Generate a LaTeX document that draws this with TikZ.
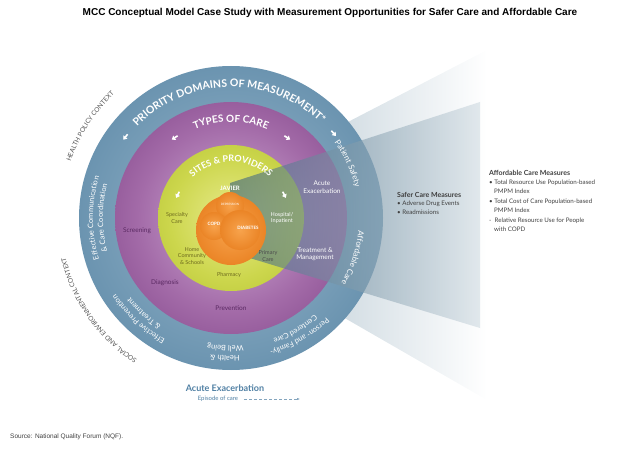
\documentclass[tikz,border=0pt]{standalone}
\usepackage{fontspec}
\setmainfont{Lato}
\newfontfamily\arialf{Liberation Sans}
\usetikzlibrary{decorations.text,arrows.meta}
\definecolor{ringblue}{HTML}{3E6B87}
\definecolor{ptxt}{HTML}{5B2A63}
\definecolor{gtxt}{HTML}{6E6B1E}
\definecolor{steel}{HTML}{4F7FA3}
\definecolor{ctx}{HTML}{555555}
\pgfdeclareradialshading{blueR}{\pgfpoint{0bp}{0bp}}{rgb(0bp)=(0.60,0.72,0.80); rgb(25bp)=(0.42,0.58,0.69); rgb(50bp)=(0.22,0.38,0.50)}
\pgfdeclareradialshading{purpR}{\pgfpoint{0bp}{0bp}}{rgb(0bp)=(0.82,0.68,0.84); rgb(20bp)=(0.64,0.42,0.66); rgb(50bp)=(0.38,0.13,0.42)}
\pgfdeclareradialshading{grnR}{\pgfpoint{0bp}{0bp}}{rgb(0bp)=(0.91,0.92,0.55); rgb(21bp)=(0.80,0.84,0.30); rgb(50bp)=(0.64,0.70,0.12)}
\pgfdeclareradialshading{orgR}{\pgfpoint{0bp}{0bp}}{rgb(0bp)=(0.97,0.64,0.30); rgb(25bp)=(0.92,0.52,0.15); rgb(50bp)=(0.87,0.44,0.10)}
\newcommand\arctxt[5]{\path[decorate,decoration={text along path,text align=center,text={|#4|#5}}] (C) ++(#2:#1) arc[start angle=#2,end angle=#3,radius=#1];}
\begin{document}
\begin{tikzpicture}[x=1pt,y=1pt,
  lab/.style={align=center,font=\fontsize{5.5}{6.5}\selectfont,inner sep=0pt},
  wht/.style={lab,text=white},
  pl/.style={lab,text=ptxt,font=\fontsize{6.5}{7.5}\selectfont},
  gl/.style={lab,text=gtxt},
  warr/.style={white,line width=1.6pt,-{Triangle[length=3.5pt,width=5pt]}},
  meas/.style={anchor=north west,align=left,inner sep=0pt,text=black!75,font=\fontsize{6.2}{8.5}\selectfont}]
\useasboundingbox (0,0) rectangle (624,448);
\coordinate (C) at (231,230);
\coordinate (wt) at (230,265); \coordinate (wb) at (230,196);
\coordinate (ot) at (487,398); \coordinate (ob) at (487,48);
\coordinate (it) at (480,346); \coordinate (ib) at (480,120);
\path[left color=ringblue!40,right color=white] (wt) -- (ot) -- (ob) -- (wb) -- cycle;
\path[shading=blueR] (C) circle[radius=152];
\path[shading=purpR] (C) circle[radius=116];
\path[shading=grnR] (C) circle[radius=73];
\path[left color=ringblue!90!black,right color=ringblue!25,fill opacity=0.6] (wt) -- (it) -- (ib) -- (wb) -- cycle;
\path[shading=orgR] (231,218) circle[radius=35];
\path[shading=orgR] (230,242) circle[radius=14];
\path[shading=orgR] (214,222) circle[radius=14];
\path[shading=orgR] (240,218) circle[radius=20];
\node[wht,font=\bfseries\fontsize{6}{6}\selectfont] (jav) at (230,260) {JAVIER};
\node[wht,font=\fontsize{3}{3}\selectfont] (dep) at (230,244) {DEPRESSION};
\node[wht,font=\bfseries\fontsize{4.5}{4.5}\selectfont] (copd) at (214,224) {COPD};
\node[wht,font=\bfseries\fontsize{4.5}{4.5}\selectfont] (dia) at (248,220) {DIABETES};
\arctxt{131}{140}{42}{\color{white}\bfseries\fontsize{10.5}{10.5}\selectfont}{PRIORITY DOMAINS OF MEASUREMENT*}
\arctxt{96}{122}{58}{\color{white}\bfseries\fontsize{10}{10}\selectfont}{TYPES OF CARE}
\arctxt{56}{152}{28}{\color{white}\bfseries\fontsize{9}{9}\selectfont}{SITES {\&} PROVIDERS}
\arctxt{128}{45}{5}{\color{white}\fontsize{8}{8}\selectfont}{Patient Safety}
\arctxt{128}{2}{-38}{\color{white}\fontsize{8}{8}\selectfont}{Affordable Care}
\arctxt{138}{-35}{-85}{\color{white}\fontsize{7.5}{7.5}\selectfont}{Person- and Family-}
\arctxt{128}{-40}{-80}{\color{white}\fontsize{7.5}{7.5}\selectfont}{Centered Care}
\arctxt{138}{-75}{-110}{\color{white}\fontsize{7.5}{7.5}\selectfont}{Health {\&}}
\arctxt{128}{-75}{-110}{\color{white}\fontsize{7.5}{7.5}\selectfont}{Well Being}
\arctxt{138}{-105}{-160}{\color{white}\fontsize{7.5}{7.5}\selectfont}{Effective Prevention}
\arctxt{128}{-115}{-150}{\color{white}\fontsize{7.5}{7.5}\selectfont}{{\&} Treatment}
\arctxt{138}{210}{150}{\color{white}\fontsize{7.5}{7.5}\selectfont}{Effective Communication}
\arctxt{128}{210}{150}{\color{white}\fontsize{7.5}{7.5}\selectfont}{{\&} Care Coordination}
\arctxt{170}{172}{122}{\color{ctx}\fontsize{6.5}{6.5}\selectfont}{HEALTH POLICY CONTEXT}
\arctxt{170}{248}{182}{\color{ctx}\fontsize{6.5}{6.5}\selectfont}{SOCIAL AND ENVIRONMENTAL CONTEXT}
\draw[warr] (C) ++(141:133) coordinate (a1) -- ++(231:7);
\draw[warr] (C) ++(41:133) coordinate (a2) -- ++(-49:7);
\draw[warr] (C) ++(123:98) coordinate (a3) -- ++(213:7);
\draw[warr] (C) ++(57:98) coordinate (a4) -- ++(-33:7);
\draw[warr] (C) ++(153:58) coordinate (a5) -- ++(243:7);
\draw[warr] (C) ++(27:58) coordinate (a6) -- ++(-63:7);
\node[gl] (spec) at (177,230) {Specialty\\Care};
\node[wht] (hosp) at (282,230) {Hospital/\\Inpatient};
\node[gl] (home) at (192,192) {Home\\Community\\\& Schools};
\node[lab,text=black!70] (prim) at (268,192) {Primary\\Care};
\node[gl] (pharm) at (229,173) {Pharmacy};
\node[wht,font=\fontsize{6.5}{7.5}\selectfont] (acute) at (322,261) {Acute\\Exacerbation};
\node[wht,font=\fontsize{6.5}{7.5}\selectfont] (treat) at (315,194) {Treatment \&\\Management};
\node[pl] (scr) at (137,217) {Screening};
\node[pl] (diag) at (165,165) {Diagnosis};
\node[pl] (prev) at (231,140) {Prevention};
\node[lab,text=steel,font=\bfseries\fontsize{9}{9}\selectfont] (ae) at (225,60) {Acute Exacerbation};
\node[lab,text=steel,font=\fontsize{6}{6}\selectfont] (ep) at (218,49) {Episode of care};
\coordinate (epe) at (300,49);
\draw[steel!70,densely dashed,-{Latex[length=3pt]}] (ep.east) ++(6,0) -- (epe);
\node[meas] (safe) at (397,256) {{\bfseries\fontsize{7}{9}\selectfont Safer Care Measures}\\
\textbullet\ Adverse Drug Events\\\textbullet\ Readmissions};
\node[meas] (aff) at (489,278) {{\bfseries\fontsize{7}{9}\selectfont Affordable Care Measures}\\[1pt]
\textbullet\ Total Resource Use Population-based\\\hspace{5pt}PMPM Index\\[2pt]
\textbullet\ Total Cost of Care Population-based\\\hspace{5pt}PMPM Index\\[2pt]
-\ \ Relative Resource Use for People\\\hspace{5pt}with COPD};
\node[font=\arialf\bfseries\fontsize{10}{10}\selectfont,inner sep=0pt] (title) at (330,435) {MCC Conceptual Model Case Study with Measurement Opportunities for Safer Care and Affordable Care};
\node[anchor=west,font=\arialf\fontsize{6.5}{6.5}\selectfont,text=black!75,inner sep=0pt] (src) at (10,11) {Source: National Quality Forum (NQF).};
\end{tikzpicture}
\end{document}
